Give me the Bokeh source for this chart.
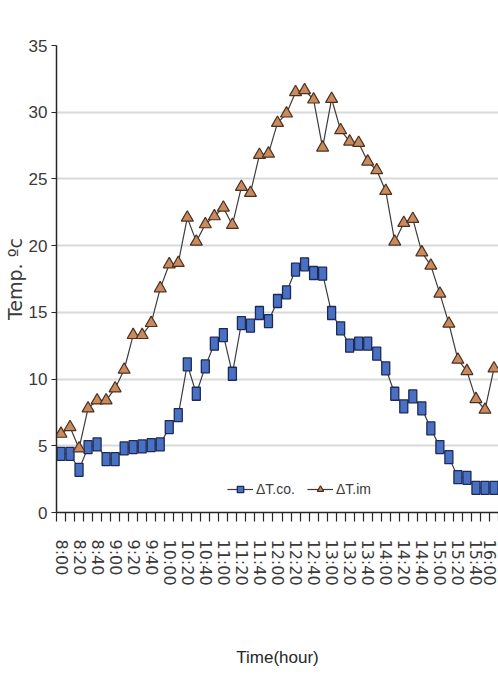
from bokeh.plotting import figure
from bokeh.models import Range1d, LinearAxis, FixedTicker, Legend, LegendItem, ColumnDataSource, Grid
from bokeh.embed import file_html
from bokeh.resources import INLINE

times = ["8:00", "8:10", "8:20", "8:30", "8:40", "8:50", "9:00", "9:10", "9:20", "9:30",
         "9:40", "9:50", "10:00", "10:10", "10:20", "10:30", "10:40", "10:50", "11:00", "11:10",
         "11:20", "11:30", "11:40", "11:50", "12:00", "12:10", "12:20", "12:30", "12:40", "12:50",
         "13:00", "13:10", "13:20", "13:30", "13:40", "13:50", "14:00", "14:10", "14:20", "14:30",
         "14:40", "14:50", "15:00", "15:10", "15:20", "15:30", "15:40", "15:50", "16:00"]

dt_co = [4.4, 4.4, 3.2, 4.9, 5.1, 4.0, 4.0, 4.8, 4.9, 4.95,
         5.05, 5.1, 6.4, 7.3, 11.1, 8.9, 10.95, 12.65, 13.3, 10.4,
         14.2, 14.0, 14.95, 14.35, 15.85, 16.5, 18.2, 18.6, 17.95, 17.9,
         14.95, 13.8, 12.5, 12.65, 12.65, 11.9, 10.8, 8.9, 7.95, 8.7,
         7.8, 6.3, 4.9, 4.15, 2.65, 2.6, 1.85, 1.85, 1.85]

dt_im = [5.9, 6.4, 4.8, 7.8, 8.4, 8.4, 9.3, 10.7, 13.3, 13.3,
         14.2, 16.8, 18.6, 18.7, 22.1, 20.3, 21.6, 22.2, 22.85, 21.55,
         24.4, 23.95, 26.8, 26.9, 29.2, 29.9, 31.5, 31.65, 30.95, 27.35,
         31.0, 28.65, 27.8, 27.7, 26.3, 25.65, 24.1, 20.3, 21.7, 22.0,
         19.5, 18.5, 16.4, 14.15, 11.45, 10.6, 8.5, 7.7, 10.8]

y_ticks = [0, 5, 10, 15, 20, 25, 30, 35]

idx = list(range(len(times)))
src = ColumnDataSource(dict(x=idx, co=dt_co, im=dt_im))

ARIAL = "'Liberation Sans', Arial, sans-serif"
WIDE = "'DejaVu Sans', sans-serif"

CO_FILL, CO_EDGE = "#4a70c4", "#1c2b55"
IM_FILL, IM_EDGE = "#c98a5e", "#4a3020"
LINE_C = "#3c3c3c"

p = figure(width=498, height=675,
           x_range=Range1d(-0.5, 48.5), y_range=Range1d(0, 35),
           x_axis_type=None, y_axis_type=None,
           output_backend="svg", toolbar_location=None,
           min_border_left=54, min_border_right=0,
           min_border_top=45, min_border_bottom=163)
p.outline_line_color = None
p.background_fill_color = "white"
p.border_fill_color = "white"

label_pos = idx[::2]
xaxis = LinearAxis(
    ticker=FixedTicker(ticks=label_pos, minor_ticks=[i - 0.5 for i in range(len(times) + 1)]),
    major_label_overrides={i: times[i] for i in label_pos},
    major_label_orientation="vertical",
    major_tick_out=0, major_tick_in=0,
    minor_tick_out=9, minor_tick_in=0,
    minor_tick_line_color="#262626", minor_tick_line_width=1.2,
    axis_line_color="#262626", axis_line_width=1.5,
    major_label_standoff=18,
    major_label_text_font=WIDE, major_label_text_font_size="16px",
    major_label_text_color="#3a3a3a",
    axis_label="Time(hour)", axis_label_standoff=59,
    axis_label_text_font=ARIAL, axis_label_text_font_size="17px",
    axis_label_text_font_style="normal", axis_label_text_color="#262626",
)
p.add_layout(xaxis, "below")

yaxis = LinearAxis(
    ticker=FixedTicker(ticks=y_ticks),
    major_tick_out=5, major_tick_in=0,
    minor_tick_out=0, minor_tick_in=0,
    major_tick_line_color="#262626", axis_line_color="#262626", axis_line_width=1.5,
    major_label_standoff=4,
    major_label_text_font=ARIAL, major_label_text_font_size="17px",
    major_label_text_color="#3a3a3a",
    axis_label="Temp. ºc", axis_label_standoff=0,
    axis_label_text_font=WIDE, axis_label_text_font_size="19px",
    axis_label_text_font_style="normal", axis_label_text_color="#3a3a3a",
)
p.add_layout(yaxis, "left")

grid = Grid(dimension=1, ticker=yaxis.ticker, grid_line_color="#d9d9d9", grid_line_width=2)
p.add_layout(grid)

l_co = p.line("x", "co", source=src, line_color=LINE_C, line_width=1.2)
r_co = p.rect("x", "co", source=src, width=8, height=13, width_units="screen", height_units="screen",
              fill_color=CO_FILL, line_color=CO_EDGE, line_width=1.3)
l_im = p.line("x", "im", source=src, line_color=LINE_C, line_width=1.2)
s_im = p.scatter("x", "im", source=src, marker="triangle", size=12,
                 fill_color=IM_FILL, line_color=IM_EDGE, line_width=1.2)

# marker used only for the legend swatch of the blue series
s_co_key = p.scatter("x", "co", source=src, marker="square", size=10,
                     fill_color=CO_FILL, line_color=CO_EDGE, line_width=1.3, visible=False)

legend = Legend(items=[LegendItem(label="ΔT.co.", renderers=[l_co, s_co_key]),
                       LegendItem(label="ΔT.im", renderers=[l_im, s_im])],
                location=(171, 15), orientation="horizontal",
                glyph_width=26, glyph_height=16, label_standoff=3, spacing=12,
                padding=0, margin=0,
                background_fill_alpha=0, border_line_color=None,
                label_text_font=ARIAL, label_text_font_size="14px",
                label_text_color="#3a3a3a")
p.add_layout(legend)

open("out.html", "w").write(file_html(p, INLINE))
